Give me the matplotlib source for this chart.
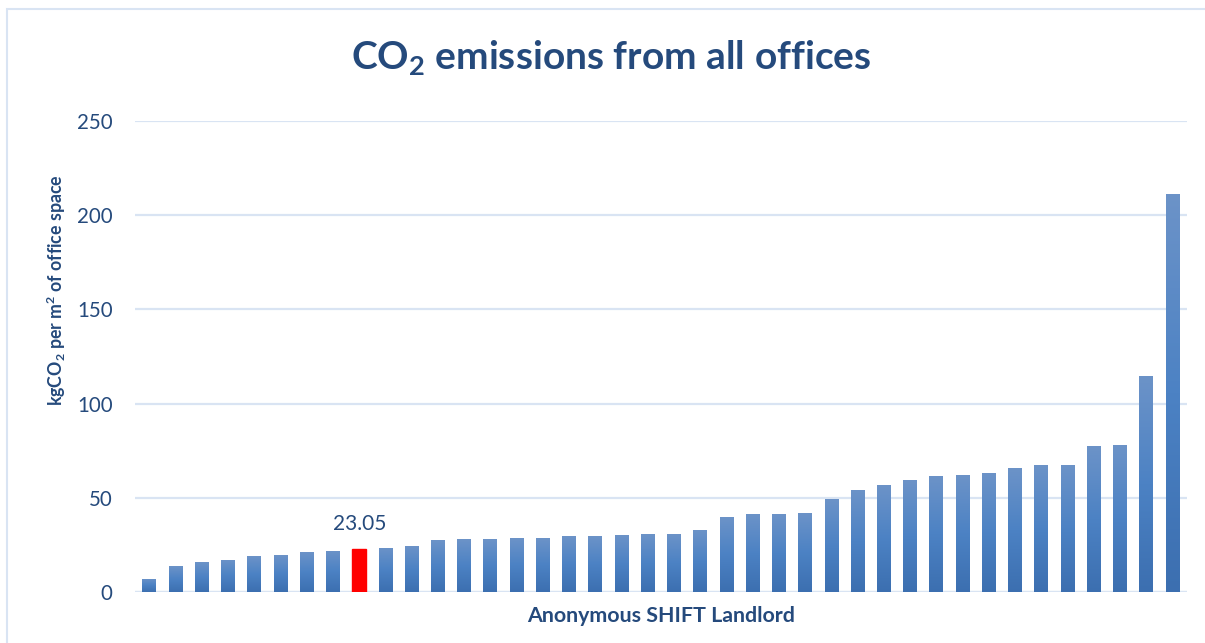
import numpy as np
import matplotlib
matplotlib.use("Agg")
import matplotlib.pyplot as plt
from matplotlib.colors import LinearSegmentedColormap
from matplotlib.patches import Rectangle

plt.rcParams["font.family"] = ["Lato", "DejaVu Sans"]
plt.rcParams["mathtext.fontset"] = "custom"
plt.rcParams["mathtext.rm"] = "Lato"
plt.rcParams["mathtext.bf"] = "Lato:bold"

# emissions per landlord, sorted (kgCO2 per m2)
emissions = [7.0, 13.8, 15.9, 17.0, 19.1, 19.6, 21.2, 21.8, 23.05, 23.6,
             24.2, 27.4, 28.0, 28.0, 28.5, 28.5, 29.6, 29.6, 30.2, 30.7,
             30.6, 32.7, 39.6, 41.2, 41.2, 41.8, 49.2, 54.0, 56.6, 59.3,
             61.4, 61.9, 63.0, 65.6, 67.2, 67.2, 77.3, 77.9, 114.5, 211.1]
highlight = 8  # the SHIFT landlord
y_ticks = [0, 50, 100, 150, 200, 250]

TEXT = "#254A7C"
GRID = "#D9E4F3"

fig = plt.figure(figsize=(12.05, 6.43), dpi=100)
ax = fig.add_axes([0.112, 0.0793, 0.873, 0.7325])

x = np.arange(len(emissions))
bars = ax.bar(x, emissions, width=0.53, color="#4A7EC0", zorder=2)

# excel-style vertical gradient on the bars
cmap = LinearSegmentedColormap.from_list("g", ["#3C6FB0", "#4C82C4", "#6C93C8"])
grad = np.linspace(0, 1, 256).reshape(-1, 1)
for i, b in enumerate(bars):
    if i == highlight:
        b.set_color("#FF0000")
        continue
    b.set_facecolor("none")
    im = ax.imshow(grad, cmap=cmap, aspect="auto", origin="lower",
                   extent=[b.get_x(), b.get_x() + b.get_width(), 0, b.get_height()],
                   zorder=2)
    im.set_clip_path(b)

ax.text(highlight, emissions[highlight] + 8, f"{emissions[highlight]:.2f}",
        ha="center", va="bottom", fontsize=15, color=TEXT)

ax.set_xlim(-0.55, len(emissions) - 0.45)
ax.set_ylim(0, 250)
ax.set_yticks(y_ticks)
ax.set_xticks([])
ax.tick_params(axis="y", length=0, labelsize=14.8, labelcolor=TEXT, pad=16)
ax.grid(axis="y", color=GRID, linewidth=1.6, zorder=0)
for s in ax.spines.values():
    s.set_visible(False)
ax.axhline(0, color=GRID, linewidth=1.6, zorder=1)

ax.set_ylabel(r"kgCO$_\mathbf{2}$ per m$^\mathbf{2}$ of office space",
              fontsize=12.8, fontweight="bold", color=TEXT)
ax.yaxis.set_label_coords(-0.064, 0.641)
ax.set_xlabel("Anonymous SHIFT Landlord", fontsize=15.4, fontweight="bold",
              color=TEXT, labelpad=10)

fig.text(0.507, 0.91, r"CO$_\mathbf{2}$ emissions from all offices",
         ha="center", va="center", fontsize=28, fontweight="bold", color=TEXT)

# chart area border
fig.patches.append(Rectangle((7 / 1205, -0.05), 1.1, 1.05 - 9 / 643,
                             transform=fig.transFigure, fill=False,
                             edgecolor=GRID, linewidth=1.5))

fig.savefig("out.png", dpi=100)
